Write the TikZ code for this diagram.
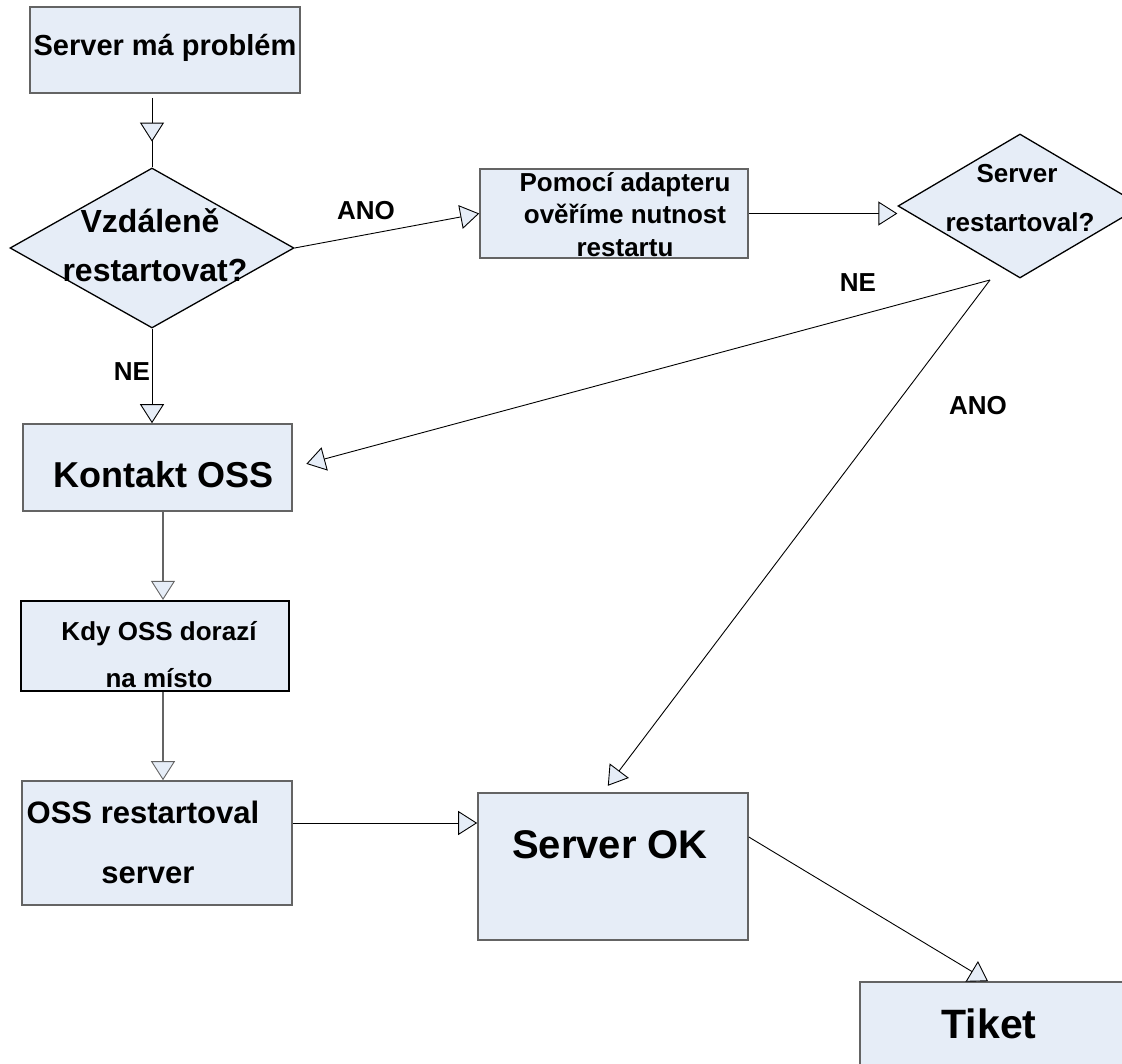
\documentclass[tikz,border=0pt]{standalone}
\usepackage{fontspec}
\setmainfont{Liberation Sans}
\usetikzlibrary{shapes.geometric,arrows.meta,decorations.markings}
\definecolor{boxfill}{RGB}{230,237,247}
\definecolor{boxline}{RGB}{100,100,100}
\begin{document}
\begin{tikzpicture}[x=1pt,y=-1pt,
  box/.style={rectangle,draw=boxline,line width=1.6pt,fill=boxfill,inner sep=0pt},
  dia/.style={diamond,draw=black,line width=1.3pt,fill=boxfill,inner sep=0pt},
  txt/.style={anchor=base,inner sep=0pt,font=\bfseries},
  lbl/.style={anchor=base,inner sep=0pt,font=\bfseries\fontsize{26}{30}\selectfont},
  tri/.tip={Triangle[length=19pt,width=24pt,fill=boxfill,line width=0.9pt]},
  conn/.style={draw=black,line width=0.9pt,-tri},
  midarrow/.style={decoration={markings,mark=at position #1 with {\arrow{tri}}},postaction={decorate}}
]
\useasboundingbox (0,0) rectangle (1122,1064);

% shapes
\node[box,minimum width=270pt,minimum height=86pt] (A) at (165,50) {};
\node[dia,minimum width=284pt,minimum height=160pt] (B) at (152,248) {};
\node[box,minimum width=268pt,minimum height=89pt] (C) at (614,213.5) {};
\node[dia,minimum width=244pt,minimum height=144pt] (D) at (1020,206) {};
\node[box,minimum width=269pt,minimum height=87pt] (E) at (157.5,467.5) {};
\node[box,draw=black,line width=2.2pt,minimum width=268pt,minimum height=90pt] (F) at (155,646) {};
\node[box,minimum width=270pt,minimum height=124pt] (G) at (157,843) {};
\node[box,minimum width=270pt,minimum height=147pt] (H) at (613,866.5) {};
\node[box,minimum width=270pt,minimum height=98pt] (I) at (995,1031) {};

% texts
\node[txt,font=\bfseries\fontsize{29}{34}\selectfont] (tA) at (165,56) {Server má problém};
\node[txt,font=\bfseries\fontsize{32}{38}\selectfont] (tB1) at (150,233) {Vzdáleně};
\node[txt,font=\bfseries\fontsize{32}{38}\selectfont] (tB2) at (155,282) {restartovat?};
\node[txt,font=\bfseries\fontsize{26}{30}\selectfont] (tC1) at (625,192) {Pomocí adapteru};
\node[txt,font=\bfseries\fontsize{26}{30}\selectfont] (tC2) at (625,224) {ověříme nutnost};
\node[txt,font=\bfseries\fontsize{26}{30}\selectfont] (tC3) at (625,257) {restartu};
\node[txt,font=\bfseries\fontsize{26}{30}\selectfont] (tD1) at (1017,183) {Server};
\node[txt,font=\bfseries\fontsize{26}{30}\selectfont] (tD2) at (1020,232) {restartoval?};
\node[txt,font=\bfseries\fontsize{36}{42}\selectfont] (tE) at (164,487) {Kontakt OSS};
\node[txt,font=\bfseries\fontsize{26}{30}\selectfont] (tF1) at (159,640) {Kdy OSS dorazí};
\node[txt,font=\bfseries\fontsize{26}{30}\selectfont] (tF2) at (159,687) {na místo};
\node[txt,font=\bfseries\fontsize{31}{36}\selectfont] (tG1) at (143,823) {OSS restartoval};
\node[txt,font=\bfseries\fontsize{31}{36}\selectfont] (tG2) at (148,883) {server};
\node[txt,font=\bfseries\fontsize{40}{46}\selectfont] (tH) at (610,858) {Server OK};
\node[txt,font=\bfseries\fontsize{41}{48}\selectfont] (tI) at (989,1038) {Tiket};

% labels
\node[lbl] (l1) at (366,220) {ANO};
\node[lbl] (l2) at (132,381) {NE};
\node[lbl] (l3) at (858,292) {NE};
\node[lbl] (l4) at (978,415) {ANO};

% connectors
\coordinate (ds) at (990,280);
\draw[draw=black,line width=0.9pt,midarrow=0.63] ([yshift=-4pt]A.south -| B.north) -- (B.north);
\draw[conn] (B.south) -- (B.south |- E.north);
\draw[conn] (B.east) -- (C.west);
\draw[conn] (C.east) -- (C.east -| D.west);
\draw[conn,shorten >=14pt] (ds) -- (E.east);
\draw[conn,shorten >=8pt] (ds) -- ([xshift=-10pt]H.north);
\draw[conn] ([yshift=29.5pt]H.east) -- ([xshift=-7pt]I.north);
\draw[conn,draw=boxline,line width=1.3pt] ([xshift=5.5pt]E.south) -- ([xshift=5.5pt]E.south |- F.north);
\draw[conn,draw=boxline,line width=1.3pt] ([xshift=8pt]F.south) -- ([xshift=8pt]F.south |- G.north);
\draw[conn] ([yshift=20pt]G.east) -- ([yshift=20pt]G.east -| H.west);
\end{tikzpicture}
\end{document}
